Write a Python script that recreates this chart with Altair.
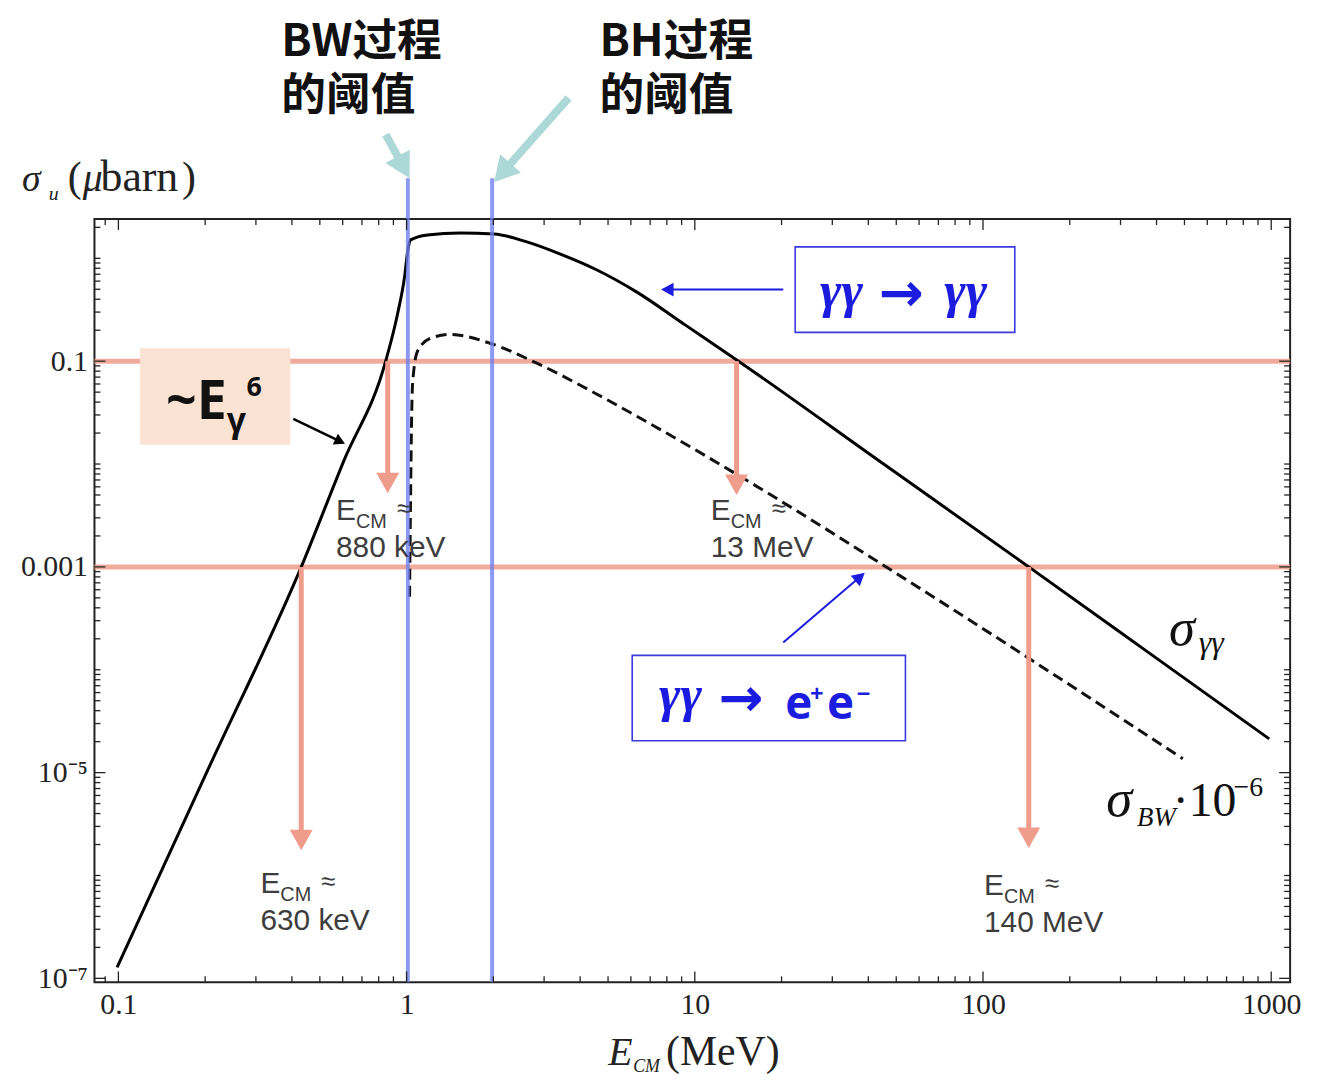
import math
import altair as alt
import pandas as pd

SERIF = "Liberation Serif"
SANS = "Liberation Sans"
BOLD = "Open Sans, DejaVu Sans"
ARROWF = "DejaVu Sans"
CJK = "Noto Sans CJK SC"
BLUE = "#1c1ce0"
RED = "#ef9c8c"

# ---------------- data ----------------
# sigma_gamma-gamma (solid curve): E_CM [MeV] vs sigma [micro-barn]
gg_E = [0.099, 0.206, 0.431, 0.606, 0.846, 0.931, 0.984, 1.008, 1.032, 1.181,
        1.536, 2.011, 2.613, 3.398, 4.558, 6.255, 9.31, 14.18, 45.2, 144.1, 376.7, 984]
gg_S = [1.28e-7, 1.117e-5, 1.0e-3, 0.0108, 0.1, 0.291, 0.663, 1.156, 1.51, 1.687,
        1.762, 1.726, 1.443, 1.105, 0.774, 0.4746, 0.2228, 0.1, 0.01, 1.0e-3, 1.46e-4, 2.13e-5]
# sigma_BW * 1e-6 (dashed curve)
bw_E = [1.024, 1.032, 1.0405, 1.0488, 1.0912, 1.21, 1.418, 1.948, 2.829, 4.558,
        6.255, 17.98, 52.25, 493.4]
bw_S = [5.13e-4, 4.44e-3, 0.0263, 0.060, 0.1249, 0.1668, 0.1823, 0.1493, 0.0956, 0.048,
        0.02944, 5.19e-3, 8.0e-4, 1.366e-5]

# horizontal reference levels and threshold lines
levels = [0.1, 0.001]
thresholds = [1.01, 1.98]
threshold_top = [6.0, 6.0]

# red drop arrows: x, start level, joint, tip
drop_x = [0.86, 13.96, 0.431, 144.1]
drop_from = [0.1, 0.1, 0.001, 0.001]
drop_joint = [6.9e-3, 6.9e-3, 2.3e-6, 2.4e-6]
drop_tip = [5.2e-3, 5.0e-3, 1.76e-6, 1.85e-6]

# E_CM labels
ecm_x = [0.569, 11.36, 0.311, 100.8]
ecm_y = [2.84e-3, 2.84e-3, 6.78e-7, 6.49e-7]
ecm_val = ["880 keV", "13 MeV", "630 keV", "140 MeV"]

# tick values / labels
x_tick_values = [0.1, 1, 10, 100, 1000]
x_tick_labels = ["0.1", "1", "10", "100", "1000"]
y_tick_values = [1e-7, 1e-5, 1e-3, 0.1]
y_tick_labels = ["10⁻⁷", "10⁻⁵", "0.001", "0.1"]

# top annotation texts (two lines each)
title_x = [0.3677, 4.667]
title_y = [92.5, 92.5]
title_t = ["BW过程\n的阈值", "BH过程\n的阈值"]

# annotation arrows (tail, joint, tip, direction angle)
cyan_arrows = dict(x0=[0.8464, 3.648], y0=[15.95, 36.35], x1=[0.971, 2.165], y1=[7.88, 6.93],
                   xt=[1.024, 2.011], yt=[5.996, 5.484], angle=[151.4, 221.4])
blue_arrows = dict(x0=[20.27, 20.27], y0=[0.4963, 1.845e-4], x1=[8.135, 37.03], y1=[0.4963, 7.79e-4],
                   xt=[7.636, 38.88], yt=[0.4963, 8.75e-4], angle=[270, 49.5])
black_arrow = dict(x0=[0.4045], y0=[0.02752], x1=[0.5855], y1=[0.01672],
                   xt=[0.6113], yt=[0.01578], angle=[115.7])

# boxes
peach_box = dict(x0=[0.119], x1=[0.395], y0=[0.01543], y1=[0.1335])
blue_boxes = dict(x0=[22.3, 6.065], x1=[128.9, 53.8], y0=[0.1906, 2.04e-5], y1=[1.291, 1.38e-4])

# ---------------- scales / axes ----------------
W, H = 1203, 768
xs = alt.Scale(type="log", domain=[0.0826, 1163], nice=False)
ys = alt.Scale(type="log", domain=[9.15e-8, 2.41], nice=False)


def lab_expr(vals, labs):
    e = "''"
    for v, l in reversed(list(zip(vals, labs))):
        e = f"abs(log(datum.value)/LN10 - ({math.log10(v):.4f})) < 0.01 ? '{l}' : " + e
    return e


xaxis = alt.Axis(values=x_tick_values, labelExpr=lab_expr(x_tick_values, x_tick_labels),
                 ticks=False, domain=False, grid=False, title=None, labelFont=SERIF,
                 labelFontSize=30, labelPadding=7, labelColor="#222", labelFlush=False,
                 labelOverlap=False)
yaxis = alt.Axis(values=y_tick_values, labelExpr=lab_expr(y_tick_values, y_tick_labels),
                 ticks=False, domain=False, grid=False, title=None, labelFont=SERIF,
                 labelFontSize=30, labelPadding=7, labelColor="#222", labelFlush=False,
                 labelOverlap=False)


def X(f):
    return alt.X(f, type="quantitative", scale=xs, axis=xaxis)


def Y(f):
    return alt.Y(f, type="quantitative", scale=ys, axis=yaxis)


def df(**cols):
    return pd.DataFrame(cols)


def text_layer(d, **mk):
    mk.setdefault("align", "left")
    mk.setdefault("baseline", "alphabetic")
    return alt.Chart(d).mark_text(**mk).encode(x=X("x"), y=Y("y"), text=alt.Text("t:N"))


HEAD = "M0,0L-1,1.8L1,1.8Z"


def arrow_layers(d, color, width, head_size):
    data = pd.DataFrame(d)
    shaft = alt.Chart(data).mark_rule(color=color, strokeWidth=width, strokeCap="butt").encode(
        x=X("x0"), y=Y("y0"), x2=alt.X2("x1"), y2=alt.Y2("y1"))
    head = alt.Chart(data).mark_point(shape=HEAD, filled=True, color=color, size=head_size,
                                      opacity=1, strokeWidth=0).encode(
        x=X("xt"), y=Y("yt"), angle=alt.Angle("angle:Q", scale=None))
    return [shaft, head]


layers = []

# red reference levels
layers.append(alt.Chart(df(v=levels)).mark_rule(color=RED, strokeWidth=5, opacity=0.85).encode(y=Y("v")))

# curves
layers.append(alt.Chart(df(E=gg_E, S=gg_S)).mark_line(color="black", strokeWidth=3, interpolate="monotone")
              .encode(x=X("E"), y=Y("S")))
layers.append(alt.Chart(df(E=bw_E, S=bw_S)).mark_line(color="#111", strokeWidth=3, strokeDash=[11, 6],
                                                       interpolate="monotone")
              .encode(x=X("E"), y=Y("S")))

# blue threshold lines
layers.append(alt.Chart(df(v=thresholds, top=threshold_top)).mark_rule(color="#6f80ee", strokeWidth=4, opacity=0.8)
              .encode(x=X("v"), y=Y("top"), y2=alt.value(H)))

# red drop arrows
layers += arrow_layers(dict(x0=drop_x, y0=drop_from, x1=drop_x, y1=drop_joint, xt=drop_x, yt=drop_tip,
                            angle=[180] * 4), RED, 5, 529)

# boxes
layers.append(alt.Chart(df(**peach_box)).mark_rect(color="#fbe3d3")
              .encode(x=X("x0"), x2=alt.X2("x1"), y=Y("y0"), y2=alt.Y2("y1")))
layers.append(alt.Chart(df(**blue_boxes)).mark_rect(fill="white", stroke="#3a3ae0", strokeWidth=1.6)
              .encode(x=X("x0"), x2=alt.X2("x1"), y=Y("y0"), y2=alt.Y2("y1")))

# arrows
layers += arrow_layers(cyan_arrows, "#acd8d8", 8, 784)
layers += arrow_layers(blue_arrows, BLUE, 2, 196)
layers += arrow_layers(black_arrow, "black", 2.5, 144)

# top titles
layers.append(text_layer(df(x=title_x, y=title_y, t=title_t), font=CJK, fontSize=45, fontWeight="bold",
                         lineBreak="\n", lineHeight=54, color="#111"))

# E_CM labels
ecm = df(x=ecm_x, y=ecm_y, v=ecm_val)
GRAY = "#3d3d3d"
layers.append(text_layer(ecm.assign(t="E"), font=SANS, fontSize=30, color=GRAY))
layers.append(text_layer(ecm.assign(t="CM"), font=SANS, fontSize=20, color=GRAY, dx=20, dy=8))
layers.append(text_layer(ecm.assign(t="≈"), font=SANS, fontSize=26, color=GRAY, dx=61, dy=-3))
layers.append(text_layer(ecm.assign(t=ecm["v"]), font=SANS, fontSize=30, color=GRAY, dy=37))

# ~E_gamma^6
e6 = df(x=[0.1464], y=[0.02752])
layers.append(text_layer(e6.assign(t="~E"), font=BOLD, fontSize=54, fontWeight="bold", color="#111"))
layers.append(text_layer(e6.assign(t="γ"), font=BOLD, fontSize=34, fontWeight="bold", color="#111", dx=61, dy=13))
layers.append(text_layer(e6.assign(t="6"), font=BOLD, fontSize=27, fontWeight="bold", color="#111", dx=81, dy=-23))

# process boxes' text
gg = df(x=[27.2], y=[0.340])
layers.append(text_layer(gg.assign(t="γγ"), font=SERIF, fontSize=52, fontStyle="italic", fontWeight="bold", color=BLUE))
layers.append(text_layer(gg.assign(t="→"), font=ARROWF, fontSize=54, fontWeight="bold", color=BLUE, dx=59, dy=5))
layers.append(text_layer(gg.assign(t="γγ"), font=SERIF, fontSize=52, fontStyle="italic", fontWeight="bold", color=BLUE, dx=125))
gl = df(x=[7.51], y=[3.97e-5])
layers.append(text_layer(gl.assign(t="γγ"), font=SERIF, fontSize=52, fontStyle="italic", fontWeight="bold", color=BLUE))
layers.append(text_layer(gl.assign(t="→"), font=ARROWF, fontSize=54, fontWeight="bold", color=BLUE, dx=60, dy=5))
ee = df(x=[20.6], y=[3.33e-5])
layers.append(text_layer(ee.assign(t="e"), font=BOLD, fontSize=46, fontWeight="bold", color=BLUE))
layers.append(text_layer(ee.assign(t="+"), font=BOLD, fontSize=24, fontWeight="bold", color=BLUE, dx=25, dy=-17))
layers.append(text_layer(ee.assign(t="e"), font=BOLD, fontSize=46, fontWeight="bold", color=BLUE, dx=42))
layers.append(text_layer(ee.assign(t="−"), font=BOLD, fontSize=24, fontWeight="bold", color=BLUE, dx=72, dy=-17))

# curve labels
sg = df(x=[441.6], y=[1.726e-4])
layers.append(text_layer(sg.assign(t="σ"), font=SERIF, fontSize=53, fontStyle="italic", color="#111"))
layers.append(text_layer(sg.assign(t="γγ"), font=SERIF, fontSize=32, fontStyle="italic", color="#111", dx=30, dy=8))
sb = df(x=[267.7], y=[3.76e-6])
layers.append(text_layer(sb.assign(t="σ"), font=SERIF, fontSize=53, fontStyle="italic", color="#111"))
layers.append(text_layer(sb.assign(t="BW"), font=SERIF, fontSize=27, fontStyle="italic", color="#111", dx=31, dy=10))
layers.append(text_layer(sb.assign(t="·10"), font=SERIF, fontSize=48, color="#111", dx=67))
layers.append(text_layer(sb.assign(t="−6"), font=SERIF, fontSize=28, color="#111", dx=128, dy=-20))

# axis titles
yt = df(x=[0.0463], y=[4.49])
layers.append(text_layer(yt.assign(t="σ"), font=SERIF, fontSize=38, fontStyle="italic", color="#222"))
layers.append(text_layer(yt.assign(t="u"), font=SERIF, fontSize=20, fontStyle="italic", color="#222", dx=27, dy=9))
layers.append(text_layer(yt.assign(t="("), font=SERIF, fontSize=42, color="#222", dx=46))
layers.append(text_layer(yt.assign(t="μ"), font=SERIF, fontSize=40, fontStyle="italic", color="#222", dx=61))
layers.append(text_layer(yt.assign(t="barn"), font=SERIF, fontSize=44, color="#222", dx=79))
layers.append(text_layer(yt.assign(t=")"), font=SERIF, fontSize=42, color="#222", dx=161))
xt = df(x=[5.012], y=[1.443e-8])
layers.append(text_layer(xt.assign(t="E"), font=SERIF, fontSize=40, fontStyle="italic", color="#222"))
layers.append(text_layer(xt.assign(t="CM"), font=SERIF, fontSize=18, fontStyle="italic", color="#222", dx=25, dy=7))
layers.append(text_layer(xt.assign(t="(MeV)"), font=SERIF, fontSize=42, color="#222", dx=58))

# frame ticks (inward, on all four sides)
lo_x, hi_x = 0.0826, 1163
lo_y, hi_y = 9.15e-8, 2.41
x_minor = [k * 10 ** e for e in range(-2, 3) for k in range(2, 10) if lo_x <= k * 10 ** e <= hi_x]
y_all = [k * 10 ** e for e in range(-8, 1) for k in range(1, 10) if lo_y <= k * 10 ** e <= hi_y]
y_minor = [v for v in y_all if all(abs(math.log10(v) - math.log10(m)) > 1e-6 for m in y_tick_values)]
TK = "#222"
for vals, L in ((x_tick_values, 11), (x_minor, 6)):
    d = df(v=vals)
    layers.append(alt.Chart(d).mark_rule(color=TK, strokeWidth=1.3).encode(x=X("v"), y=alt.value(0), y2=alt.value(L)))
    layers.append(alt.Chart(d).mark_rule(color=TK, strokeWidth=1.3).encode(x=X("v"), y=alt.value(H - L), y2=alt.value(H)))
for vals, L in ((y_tick_values, 11), (y_minor, 6)):
    d = df(v=vals)
    layers.append(alt.Chart(d).mark_rule(color=TK, strokeWidth=1.3).encode(y=Y("v"), x=alt.value(0), x2=alt.value(L)))
    layers.append(alt.Chart(d).mark_rule(color=TK, strokeWidth=1.3).encode(y=Y("v"), x=alt.value(W - L), x2=alt.value(W)))

chart = alt.layer(*layers).properties(
    width=W, height=H,
    autosize=alt.AutoSizeParams(type="none"),
    padding={"left": 87, "top": 209, "right": 19, "bottom": 100},
).configure_view(stroke="#222", strokeWidth=2)

chart.save("out.html", embed_options={"renderer": "svg", "actions": False})
